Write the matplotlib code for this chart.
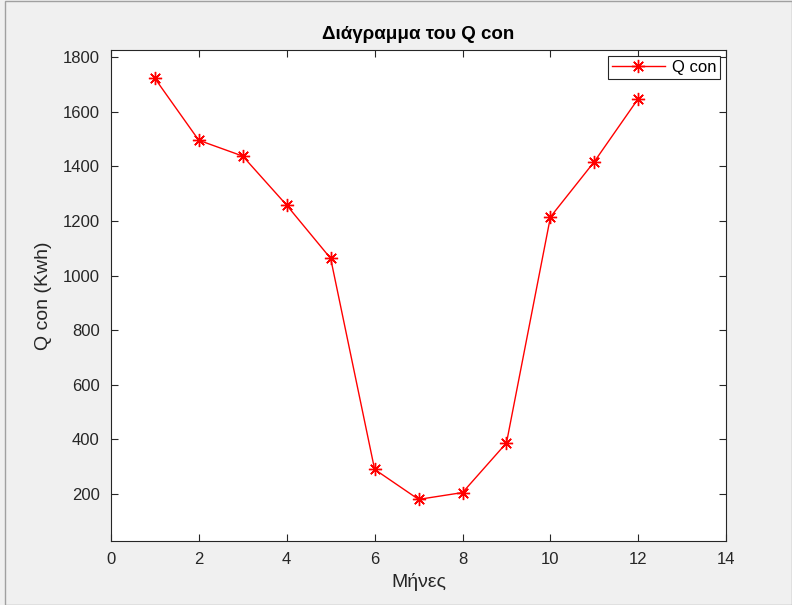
import matplotlib
matplotlib.use("Agg")
import matplotlib.pyplot as plt
from matplotlib.patches import Rectangle

months = [1, 2, 3, 4, 5, 6, 7, 8, 9, 10, 11, 12]
q_con = [1723, 1496, 1438, 1258, 1063, 290, 180, 205, 387, 1215, 1418, 1649]
xticks = [0, 2, 4, 6, 8, 10, 12, 14]
yticks = [200, 400, 600, 800, 1000, 1200, 1400, 1600, 1800]

plt.rcParams['font.family'] = ['Liberation Sans', 'DejaVu Sans']

fig = plt.figure(figsize=(7.92, 6.05), dpi=100)
fig.patch.set_facecolor('#f0f0f0')
fig.patches.append(Rectangle((0.006, 0.0), 0.994, 0.998, transform=fig.transFigure,
                             fill=False, edgecolor='#a0a0a0', linewidth=1.0))

ax = fig.add_axes([0.140, 0.106, 0.777, 0.811])
ax.set_facecolor('white')
ax.plot(months, q_con, color='red', marker=(8, 2, 0), markersize=9.5, linewidth=1.0,
        markeredgewidth=1.0, label='Q con')
ax.set_xlim(0, 14)
ax.set_ylim(28, 1826)
ax.set_xticks(xticks)
ax.set_yticks(yticks)
ax.tick_params(direction='in', top=True, right=True, length=5, width=0.8,
               labelsize=12, colors='#262626', pad=8)
for s in ax.spines.values():
    s.set_color('#262626')
    s.set_linewidth(0.8)
ax.set_xlabel('Μήνες', fontsize=14, color='#262626', labelpad=4)
ax.set_ylabel('Q con (Kwh)', fontsize=14, color='#262626', labelpad=8)
ax.set_title('Διάγραμμα του Q con', fontsize=13.5, fontweight='bold', color='black', pad=8)
leg = ax.legend(loc='upper right', fontsize=12, fancybox=False, framealpha=1,
                edgecolor='#262626', borderpad=0.25, handlelength=3.2,
                handletextpad=0.4, borderaxespad=0.35)
leg.get_frame().set_linewidth(0.8)

fig.savefig('out.png', dpi=100, facecolor=fig.get_facecolor())
